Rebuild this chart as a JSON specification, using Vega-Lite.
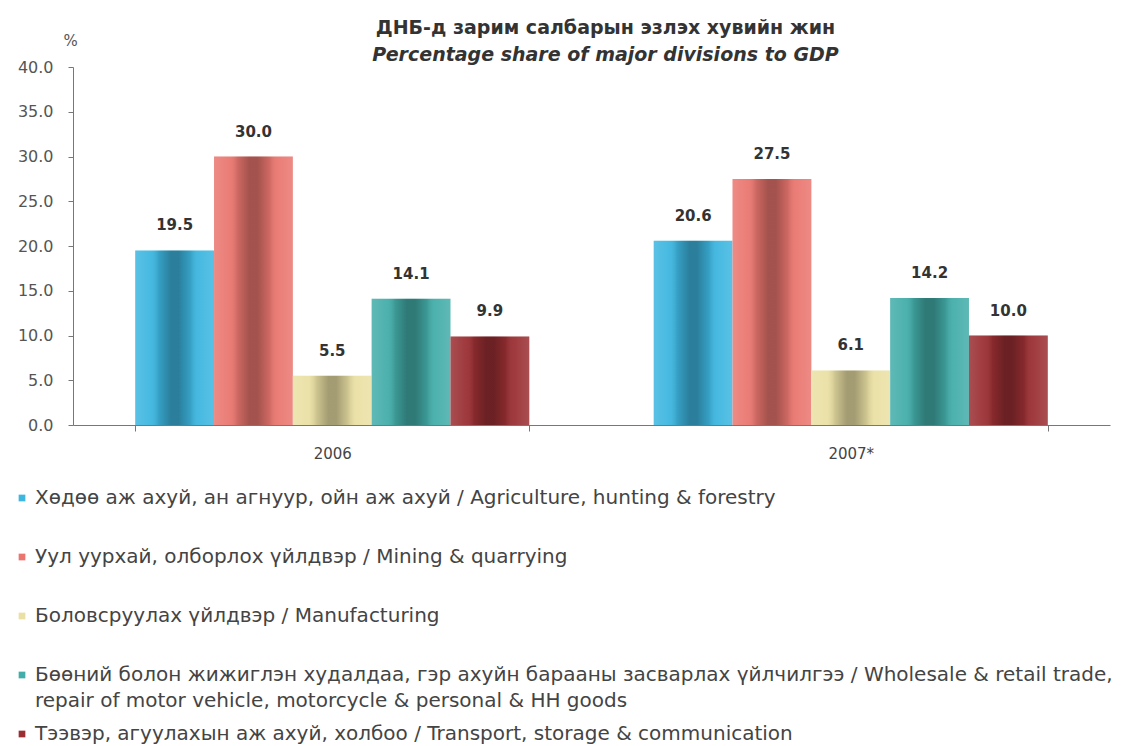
{
  "$schema": "https://vega.github.io/schema/vega-lite/v6.json",
  "width": 1037,
  "height": 358,
  "autosize": {"type": "none"},
  "padding": {"left": 73, "top": 67, "right": 21, "bottom": 321},
  "background": "white",
  "config": {"view": {"stroke": null}, "font": "DejaVu Sans"},
  "title": {
    "text": "ДНБ-д зарим салбарын эзлэх хувийн жин",
    "subtitle": "Percentage share of major divisions to GDP",
    "anchor": "middle",
    "font": "DejaVu Sans",
    "subtitleFont": "DejaVu Sans",
    "fontSize": 19,
    "fontWeight": "bold",
    "subtitleFontSize": 19,
    "subtitleFontWeight": "bold",
    "subtitleFontStyle": "italic",
    "color": "#333333",
    "subtitleColor": "#333333",
    "offset": 4,
    "dy": 36,
    "dx": 14,
    "subtitlePadding": 8
  },
  "data": {
    "values": [
      {"year": "2006", "sector": "Хөдөө аж ахуй, ан агнуур, ойн аж ахуй  / Agriculture, hunting & forestry", "value": 19.5},
      {"year": "2006", "sector": "Уул уурхай, олборлох үйлдвэр / Mining & quarrying", "value": 30.0},
      {"year": "2006", "sector": "Боловсруулах үйлдвэр / Manufacturing", "value": 5.5},
      {"year": "2006", "sector": "Бөөний болон жижиглэн худалдаа, гэр ахуйн барааны засварлах үйлчилгээ / Wholesale & retail trade, repair of motor vehicle, motorcycle & personal & HH goods", "value": 14.1},
      {"year": "2006", "sector": "Тээвэр, агуулахын аж ахуй, холбоо /  Transport, storage & communication", "value": 9.9},
      {"year": "2007*", "sector": "Хөдөө аж ахуй, ан агнуур, ойн аж ахуй  / Agriculture, hunting & forestry", "value": 20.6},
      {"year": "2007*", "sector": "Уул уурхай, олборлох үйлдвэр / Mining & quarrying", "value": 27.5},
      {"year": "2007*", "sector": "Боловсруулах үйлдвэр / Manufacturing", "value": 6.1},
      {"year": "2007*", "sector": "Бөөний болон жижиглэн худалдаа, гэр ахуйн барааны засварлах үйлчилгээ / Wholesale & retail trade, repair of motor vehicle, motorcycle & personal & HH goods", "value": 14.2},
      {"year": "2007*", "sector": "Тээвэр, агуулахын аж ахуй, холбоо /  Transport, storage & communication", "value": 10.0}
    ]
  },
  "encoding": {
    "x": {
      "field": "year",
      "type": "nominal",
      "scale": {"paddingInner": 0.24, "paddingOuter": 0.12},
      "axis": {
        "title": null,
        "labelAngle": 0,
        "tickBand": "extent",
        "domainColor": "#777777",
        "tickColor": "#777777",
        "tickSize": 6,
        "labelPadding": 15,
        "labelFontSize": 15,
        "labelColor": "#444444",
        "labelFont": "DejaVu Sans"
      }
    },
    "xOffset": {
      "field": "sector",
      "type": "nominal",
      "sort": null,
      "scale": {"paddingInner": 0, "paddingOuter": 0}
    },
    "y": {
      "field": "value",
      "type": "quantitative",
      "scale": {"domain": [0, 40]},
      "axis": {
        "values": [0, 5, 10, 15, 20, 25, 30, 35, 40],
        "format": ".1f",
        "grid": false,
        "domainColor": "#777777",
        "tickColor": "#777777",
        "tickSize": 5,
        "labelPadding": 15,
        "labelFontSize": 16,
        "labelColor": "#555555",
        "labelFont": "DejaVu Sans",
        "title": "%",
        "titleFont": "DejaVu Sans",
        "titleAngle": 0,
        "titleX": -3,
        "titleY": -27,
        "titleAlign": "center",
        "titleBaseline": "middle",
        "titleFontSize": 15,
        "titleFontWeight": "normal",
        "titleColor": "#555555"
      }
    }
  },
  "layer": [
    {
      "mark": {"type": "bar"},
      "encoding": {
        "color": {
          "field": "sector",
          "type": "nominal",
          "sort": null,
          "scale": {"range": ["#3DB6E0", "#EA766F", "#EAE0A4", "#43ADA9", "#9A2F33"]},
          "legend": {
            "title": null,
            "orient": "none",
            "legendX": -61,
            "legendY": 421,
            "direction": "vertical",
            "gridAlign": "all",
            "rowPadding": 13,
            "symbolType": "square",
            "symbolSize": 45,
            "symbolStrokeWidth": 0,
            "labelFontSize": 20,
            "labelFont": "DejaVu Sans",
            "labelColor": "#444444",
            "labelLimit": 1200,
            "labelOffset": 3,
            "labelBaseline": "alphabetic",
            "encode": {
              "labels": {"update": {"dy": {"value": 6}, "lineHeight": {"value": 26}}}
            },
            "labelExpr": "indexof(datum.label, 'Wholesale') >= 0 ? ['Бөөний болон жижиглэн худалдаа, гэр ахуйн барааны засварлах үйлчилгээ / Wholesale & retail trade,', 'repair of motor vehicle, motorcycle & personal & HH goods'] : datum.label"
          }
        }
      }
    },
    {
      "mark": {
        "type": "bar",
        "color": {
          "gradient": "linear",
          "x1": 0, "x2": 1, "y1": 0, "y2": 0,
          "stops": [
            {"offset": 0, "color": "rgba(255,255,255,0.15)"},
            {"offset": 0.2, "color": "rgba(255,255,255,0.05)"},
            {"offset": 0.3, "color": "rgba(0,0,0,0.12)"},
            {"offset": 0.45, "color": "rgba(0,0,0,0.3)"},
            {"offset": 0.55, "color": "rgba(0,0,0,0.3)"},
            {"offset": 0.7, "color": "rgba(0,0,0,0.12)"},
            {"offset": 0.8, "color": "rgba(255,255,255,0.05)"},
            {"offset": 1, "color": "rgba(255,255,255,0.15)"}
          ]
        }
      }
    },
    {
      "mark": {"type": "text", "baseline": "middle", "dy": -25, "fontWeight": "bold", "fontSize": 15, "color": "#333333", "font": "DejaVu Sans"},
      "encoding": {
        "text": {"field": "value", "type": "quantitative", "format": ".1f"}
      }
    }
  ]
}
